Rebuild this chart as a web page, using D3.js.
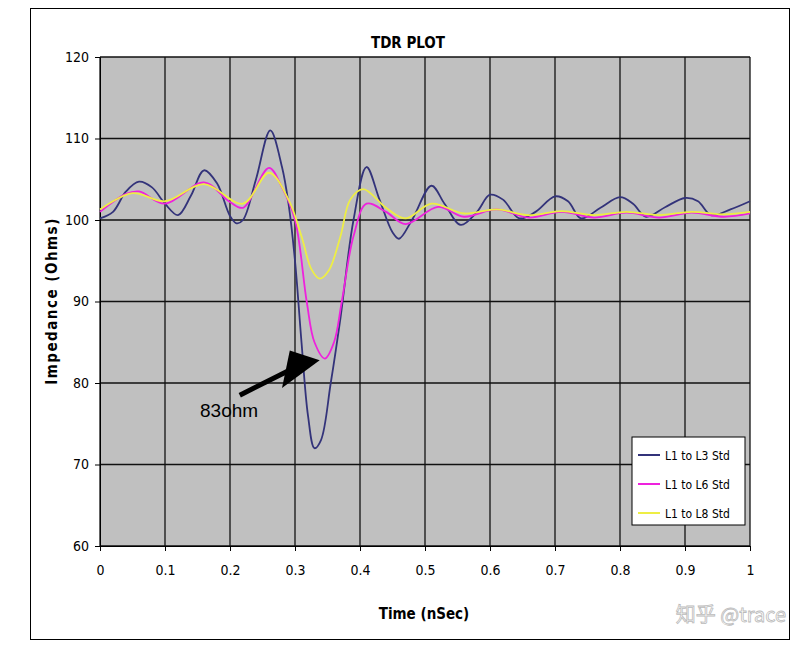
<!DOCTYPE html>
<html><head><meta charset="utf-8">
<script src="https://cdn.jsdelivr.net/npm/d3@7"></script>
<style>body{margin:0;background:#fff}</style></head>
<body><svg id="c" width="808" height="647"></svg>
<script>
const l3T = [0,.02,.04,.06,.08,.10,.12,.14,.16,.18,.20,.21,.22,.24,.262,.28,.29,.30,.31,.32,.33,.34,.355,.37,.39,.41,.43,.45,.46,.48,.51,.53,.555,.58,.60,.62,.645,.67,.70,.72,.74,.77,.80,.82,.84,.87,.90,.92,.94,.97,1.0];
const l3V = [100.2,101,103.5,104.7,104,102,100.6,103,106.1,104.5,100.5,99.6,100,105,111,106.5,102,95,85,76,72,73,80,88,100,106.5,102.5,98.5,97.7,100,104.2,102,99.4,101,103.1,102.5,100.2,101,102.9,102.3,100.2,101.5,102.8,102,100.4,101.6,102.7,102.3,100.6,101.3,102.3];
const l6T = [0,.04,.06,.1,.16,.2,.22,.26,.28,.30,.318,.33,.346,.36,.372,.39,.41,.44,.47,.52,.56,.61,.66,.71,.76,.81,.86,.91,.96,1.0];
const l6V = [101,103.2,103.5,102,104.6,102.2,101.5,106.4,104,100,90,85,83,85,90,98,102,101,99.5,101.6,100.4,101.3,100.3,101,100.3,100.9,100.3,100.9,100.4,100.8];
const l8T = [0,.05,.1,.16,.22,.26,.29,.31,.325,.338,.352,.37,.385,.405,.44,.47,.51,.56,.61,.66,.71,.76,.81,.86,.91,.96,1.0];
const l8V = [101.3,103.3,102.3,104.4,102,105.8,102.5,98,94,92.8,93.8,98,102.5,103.8,101.5,100.2,102,100.8,101.3,100.6,101.1,100.6,101,100.6,101,100.7,101];
const seriesNames = ["L1 to L3 Std","L1 to L6 Std","L1 to L8 Std"];
const colors = ["#33337a","#ee22dd","#eeee44"];
const xTicks = [0,.1,.2,.3,.4,.5,.6,.7,.8,.9,1];
const yTicks = [60,70,80,90,100,110,120];

const svg = d3.select("#c");
const font = "'DejaVu Sans Condensed','Liberation Sans Narrow',sans-serif";
svg.append("rect").attr("x",30.5).attr("y",8.5).attr("width",759).attr("height",631).attr("fill","#fff").attr("stroke","#000");

const x = d3.scaleLinear().domain([0,1]).range([100,750]);
const y = d3.scaleLinear().domain([60,120]).range([546,57]);

svg.append("rect").attr("x",100).attr("y",57).attr("width",650).attr("height",489).attr("fill","#c0c0c0");
const g = svg.append("g");
xTicks.forEach(t => g.append("line").attr("x1",x(t)).attr("x2",x(t)).attr("y1",57).attr("y2",546).attr("stroke","#111").attr("stroke-width",1.3));
yTicks.forEach(t => g.append("line").attr("x1",100).attr("x2",750).attr("y1",y(t)).attr("y2",y(t)).attr("stroke","#111").attr("stroke-width",1.3));

const xa = svg.append("g").attr("transform","translate(0,546)").call(d3.axisBottom(x).tickValues(xTicks).tickFormat(d3.format("")).tickSize(5).tickPadding(14));
const ya = svg.append("g").attr("transform","translate(100,0)").call(d3.axisLeft(y).tickValues(yTicks).tickSize(5).tickPadding(6));
[xa,ya].forEach(a => { a.selectAll("text").attr("font-family",font).attr("font-size",14).attr("fill","#000"); a.selectAll("path,line").attr("stroke","#000"); });

const line = d3.line().x(d=>x(d[0])).y(d=>y(d[1])).curve(d3.curveCatmullRom);
[[l3T,l3V],[l6T,l6V],[l8T,l8V]].forEach(([T,V],i) => {
  svg.append("path").datum(T.map((t,j)=>[t,V[j]])).attr("d",line).attr("fill","none").attr("stroke",colors[i]).attr("stroke-width",1.8);
});

svg.append("text").attr("x",408).attr("y",48).attr("text-anchor","middle").attr("font-family",font).attr("font-weight","bold").attr("font-size",15).text("TDR PLOT");
svg.append("text").attr("x",424).attr("y",619).attr("text-anchor","middle").attr("font-family",font).attr("font-weight","bold").attr("font-size",15).text("Time (nSec)");
svg.append("text").attr("transform","translate(57,301) rotate(-90)").attr("text-anchor","middle").attr("font-family",font).attr("font-weight","bold").attr("font-size",15).attr("letter-spacing",1.5).text("Impedance (Ohms)");

// annotation
svg.append("line").attr("x1",x(0.215)).attr("y1",y(78.5)).attr("x2",x(0.29)).attr("y2",y(81.5)).attr("stroke","#000").attr("stroke-width",5);
svg.append("path").attr("d",`M${x(0.28)},${y(79.4)}L${x(0.292)},${y(84)}L${x(0.338)},${y(82.8)}Z`).attr("fill","#000");
svg.append("text").attr("x",200).attr("y",417).attr("font-family","'Liberation Sans',Arial,sans-serif").attr("font-size",19).text("83ohm");

// legend
const lg = svg.append("g").attr("transform","translate(632,437)");
lg.append("rect").attr("width",113).attr("height",88).attr("fill","#fff").attr("stroke","#000");
seriesNames.forEach((n,i) => {
  lg.append("line").attr("x1",6).attr("x2",28).attr("y1",18+i*29).attr("y2",18+i*29).attr("stroke",colors[i]).attr("stroke-width",2);
  lg.append("text").attr("x",33).attr("y",23+i*29).attr("font-family",font).attr("font-size",12).text(n);
});

svg.append("text").attr("x",786).attr("y",622).attr("text-anchor","end").attr("font-family","'Noto Sans CJK SC',sans-serif").attr("font-size",20).attr("fill","#fff").attr("stroke","#bbb").attr("stroke-width",0.8).text("知乎 @trace");
</script></body></html>
